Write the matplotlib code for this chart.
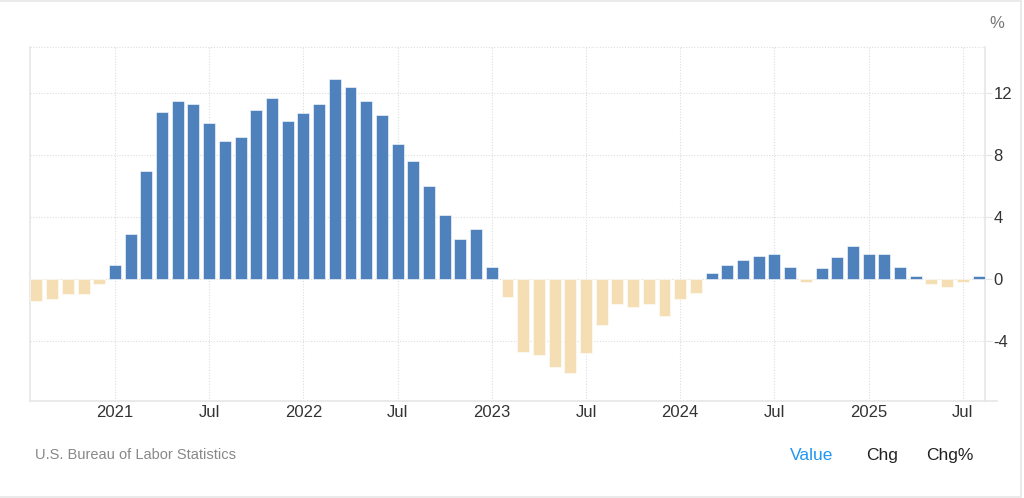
import numpy as np
import matplotlib.pyplot as plt
from matplotlib.patches import Rectangle

plt.rcParams['font.family'] = ['Liberation Sans', 'DejaVu Sans']
plt.rcParams['axes.unicode_minus'] = False

# monthly values, Aug 2020 .. Aug 2025 (%)
months = [
    'Aug 2020', 'Sep 2020', 'Oct 2020', 'Nov 2020', 'Dec 2020',
    'Jan 2021', 'Feb 2021', 'Mar 2021', 'Apr 2021', 'May 2021', 'Jun 2021',
    'Jul 2021', 'Aug 2021', 'Sep 2021', 'Oct 2021', 'Nov 2021', 'Dec 2021',
    'Jan 2022', 'Feb 2022', 'Mar 2022', 'Apr 2022', 'May 2022', 'Jun 2022',
    'Jul 2022', 'Aug 2022', 'Sep 2022', 'Oct 2022', 'Nov 2022', 'Dec 2022',
    'Jan 2023', 'Feb 2023', 'Mar 2023', 'Apr 2023', 'May 2023', 'Jun 2023',
    'Jul 2023', 'Aug 2023', 'Sep 2023', 'Oct 2023', 'Nov 2023', 'Dec 2023',
    'Jan 2024', 'Feb 2024', 'Mar 2024', 'Apr 2024', 'May 2024', 'Jun 2024',
    'Jul 2024', 'Aug 2024', 'Sep 2024', 'Oct 2024', 'Nov 2024', 'Dec 2024',
    'Jan 2025', 'Feb 2025', 'Mar 2025', 'Apr 2025', 'May 2025', 'Jun 2025',
    'Jul 2025', 'Aug 2025',
]
values = [
    -1.4, -1.3, -1.0, -1.0, -0.3,
    0.9, 2.9, 7.0, 10.8, 11.5, 11.3,
    10.1, 8.9, 9.2, 10.9, 11.7, 10.2,
    10.7, 11.3, 12.9, 12.4, 11.5, 10.6,
    8.7, 7.6, 6.0, 4.1, 2.6, 3.2,
    0.8, -1.2, -4.7, -4.9, -5.7, -6.1,
    -4.8, -3.0, -1.6, -1.8, -1.6, -2.4,
    -1.3, -0.9, 0.4, 0.9, 1.2, 1.5,
    1.6, 0.8, -0.2, 0.7, 1.4, 2.1,
    1.6, 1.6, 0.8, 0.2, -0.3, -0.5,
    -0.2, 0.2,
]

tick_months = ['Jan 2021', 'Jul 2021', 'Jan 2022', 'Jul 2022', 'Jan 2023',
               'Jul 2023', 'Jan 2024', 'Jul 2024', 'Jan 2025', 'Jul 2025']
tick_labels = ['2021', 'Jul', '2022', 'Jul', '2023', 'Jul', '2024', 'Jul', '2025', 'Jul']
y_ticks = [-4, 0, 4, 8, 12]

x = np.arange(len(values))
vals = np.array(values)
colors = np.where(vals >= 0, '#4f81bd', '#f5deb3')

fig = plt.figure(figsize=(10.24, 4.98), dpi=100)
ax = fig.add_axes([30 / 1024, 1 - 401 / 498, (985 - 30) / 1024, (401 - 47) / 498])

ax.bar(x, vals, width=0.76, color=colors, edgecolor='white', linewidth=0.4, zorder=3)

x_lo, x_hi = -0.41, 60.41
ax.set_xlim(x_lo, x_hi)
ax.set_ylim(-7.9, 15)

tick_pos = [months.index(m) for m in tick_months]
ax.set_xticks(tick_pos)
ax.set_xticklabels(tick_labels)
ax.set_yticks(y_ticks)

ax.yaxis.tick_right()
ax.tick_params(axis='x', length=0, pad=3, labelsize=12, labelcolor='#333333')
ax.tick_params(axis='y', length=5, width=0.8, color='#e6e6e6', pad=1,
               labelsize=12, labelcolor='#333333')

ax.grid(True, linestyle=(0, (1, 1.5)), color='#dddddd', linewidth=0.8, zorder=0)
ax.axhline(15, linestyle=(0, (1, 1.5)), color='#dddddd', linewidth=0.8, zorder=0)

ax.spines['top'].set_visible(False)
for side in ['left', 'right', 'bottom']:
    ax.spines[side].set_color('#e6e6e6')
    ax.spines[side].set_linewidth(1.2)

# bottom axis line runs a little past the right spine
ax.plot([x_hi, x_hi + 0.75], [-7.9, -7.9], color='#e6e6e6', lw=1.2, clip_on=False, zorder=4)

fig.text(997 / 1024, 1 - 23 / 498, '%', ha='center', va='center', fontsize=12, color='#777777')

fig.text(35 / 1024, 1 - 455 / 498, 'U.S. Bureau of Labor Statistics', ha='left', va='center',
         fontsize=10.5, color='#888888')
fig.text(812 / 1024, 1 - 455 / 498, 'Value', ha='center', va='center', fontsize=12.5, color='#2196f3')
fig.text(882 / 1024, 1 - 455 / 498, 'Chg', ha='center', va='center', fontsize=12.5, color='#222222')
fig.text(950 / 1024, 1 - 455 / 498, 'Chg%', ha='center', va='center', fontsize=12.5, color='#222222')

# card border
fig.add_artist(Rectangle((-0.01, 1.5 / 498), 1021 / 1024 + 0.01, 1 - 3 / 498, fill=False,
                         edgecolor='#e6e6e6', linewidth=1.2, transform=fig.transFigure))

fig.savefig('out.png', dpi=100)
